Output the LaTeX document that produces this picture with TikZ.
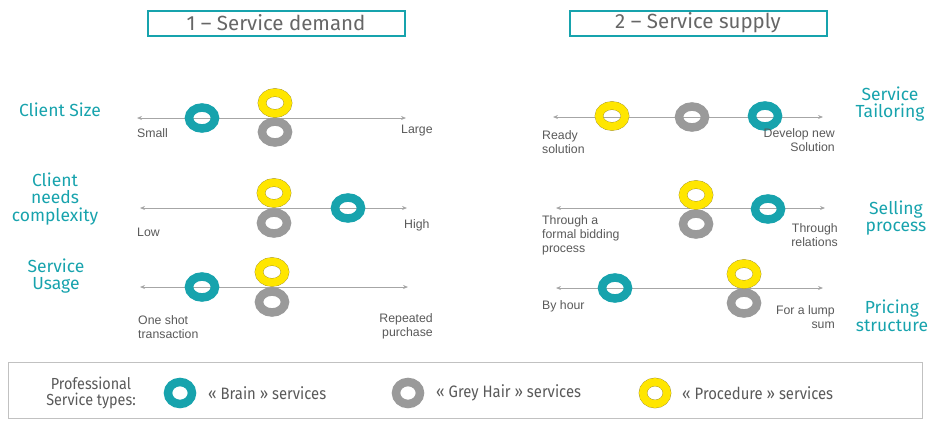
\documentclass[tikz,border=0pt]{standalone}
\usepackage{fontspec}
\setmainfont{Liberation Sans}
\newfontfamily\tfont{Fira Sans}
\newfontfamily\lfont[FakeStretch=0.9]{Fira Sans}
\usetikzlibrary{shapes.geometric,arrows.meta}
\definecolor{teal1}{HTML}{17A3AD}
\definecolor{grey1}{HTML}{9A9A9A}
\definecolor{yell1}{HTML}{FFE600}
\definecolor{gold1}{HTML}{9A8A30}
\definecolor{axis1}{HTML}{A6A6A6}
\definecolor{txt1}{HTML}{595959}
\definecolor{ttl1}{HTML}{666666}
\tikzset{
  ringbase/.style={ellipse,inner sep=0pt,minimum width=26pt,minimum height=21pt},
  brain/.style={ringbase,draw=teal1,line width=8.5pt},
  greyhair/.style={ringbase,draw=grey1,line width=8.5pt},
  proc/.style={ringbase,draw=gold1,double=yell1,double distance=7.8pt,line width=0.35pt},
  bigring/.style={minimum width=24pt,minimum height=22pt},
  axisline/.style={draw=axis1,line width=0.8pt,{Stealth[length=5pt,width=4pt]}-{Stealth[length=5pt,width=4pt]}},
  lab/.style={font=\fontsize{12.3}{14}\selectfont,text=txt1,inner sep=0pt},
  crit/.style={font=\tfont\fontsize{17.5}{17.5}\selectfont,text=teal1,align=center,inner sep=0pt},
  titlebox/.style={draw=teal1,line width=2pt,minimum width=257pt,minimum height=25pt,font=\tfont\fontsize{20.5}{22}\selectfont,text=ttl1,inner sep=0pt},
  legtxt/.style={font=\lfont\fontsize{16.5}{18}\selectfont,text=txt1,inner sep=0pt,anchor=west},
}
\begin{document}
\begin{tikzpicture}[x=1pt,y=-1pt]
\useasboundingbox (0,0) rectangle (934,421);
% titles
\node[titlebox] (t1) at (276,23) {1 – Service demand};
\node[titlebox] (t2) at (698,23) {2 – Service supply};
% ---------- left panel ----------
% row 1
\coordinate (a1l) at (137,118); \coordinate (a1r) at (406,118);
\draw[axisline] (a1l) -- (a1r);
\node[brain] (b1) at (202,118) {};
\node[greyhair] (g1) at (275,132) {};
\node[proc] (p1) at (275,103) {};
\node[lab,anchor=west] (l1a) at (137,133) {Small};
\node[lab,anchor=west] (l1b) at (401,131) {Large};
\node[crit] (c1) at (60,110) {Client Size};
% row 2
\coordinate (a2l) at (140,208); \coordinate (a2r) at (407,208);
\draw[axisline] (a2l) -- (a2r);
\node[brain] (b2) at (348,208) {};
\node[greyhair] (g2) at (274,223) {};
\node[proc] (p2) at (274,193) {};
\node[lab,anchor=west] (l2a) at (137,232) {Low};
\node[lab,anchor=west] (l2b) at (404,225) {High};
\node[crit] (c2) at (55,199) {Client\\needs\\complexity};
% row 3
\coordinate (a3l) at (140,287); \coordinate (a3r) at (408,287);
\draw[axisline] (a3l) -- (a3r);
\node[brain] (b3) at (202,287) {};
\node[greyhair] (g3) at (272,302) {};
\node[proc] (p3) at (272,272) {};
\node[lab,anchor=west,align=left] (l3a) at (138,327) {One shot\\transaction};
\node[lab,anchor=east,align=right] (l3b) at (433,326) {Repeated\\purchase};
\node[crit] (c3) at (56,276) {Service\\Usage};
% ---------- right panel ----------
% row 1
\coordinate (b1l) at (553,117); \coordinate (b1r) at (823,117);
\draw[axisline] (b1l) -- (b1r);
\node[proc] (q1) at (612,116) {};
\node[greyhair] (h1) at (692,117) {};
\node[brain] (r1) at (765,116) {};
\node[lab,anchor=west,align=left] (m1a) at (542,142) {Ready\\solution};
\node[lab,anchor=east,align=right] (m1b) at (835,140) {Develop new\\Solution};
\node[crit] (d1) at (890,104) {Service\\Tailoring};
% row 2
\coordinate (b2l) at (556,208); \coordinate (b2r) at (825,208);
\draw[axisline] (b2l) -- (b2r);
\node[greyhair] (h2) at (696,224) {};
\node[proc] (q2) at (696,195) {};
\node[brain] (r2) at (768,209) {};
\node[lab,anchor=west,align=left] (m2a) at (542,235) {Through a\\formal bidding\\process};
\node[lab,anchor=east,align=right] (m2b) at (838,235) {Through\\relations};
\node[crit] (d2) at (896,218) {Selling\\process};
% row 3
\coordinate (b3l) at (556,288); \coordinate (b3r) at (823,288);
\draw[axisline] (b3l) -- (b3r);
\node[brain] (r3) at (615,288) {};
\node[greyhair] (h3) at (744,303) {};
\node[proc] (q3) at (744,274) {};
\node[lab,anchor=west] (m3a) at (542,306) {By hour};
\node[lab,anchor=east,align=right] (m3b) at (835,317) {For a lump\\sum};
\node[crit] (d3) at (892,316) {Pricing\\structure};
% ---------- legend ----------
\node[draw=axis1!70,line width=1pt,minimum width=914pt,minimum height=56pt,inner sep=0pt] (leg) at (465,390) {};
\node[font=\lfont\fontsize{16}{16}\selectfont,text=txt1,align=center,inner sep=0pt] (legt) at (91,393) {Professional\\Service types:};
\node[brain,bigring] (lb) at (180,393) {};
\node[legtxt] (lbt) at (208,393) {« Brain » services};
\node[greyhair,bigring] (lg) at (408,393) {};
\node[legtxt] (lgt) at (436,393) {« Grey Hair » services};
\node[proc,bigring] (lp) at (655,393) {};
\node[legtxt] (lpt) at (682,393) {« Procedure » services};
\end{tikzpicture}
\end{document}
